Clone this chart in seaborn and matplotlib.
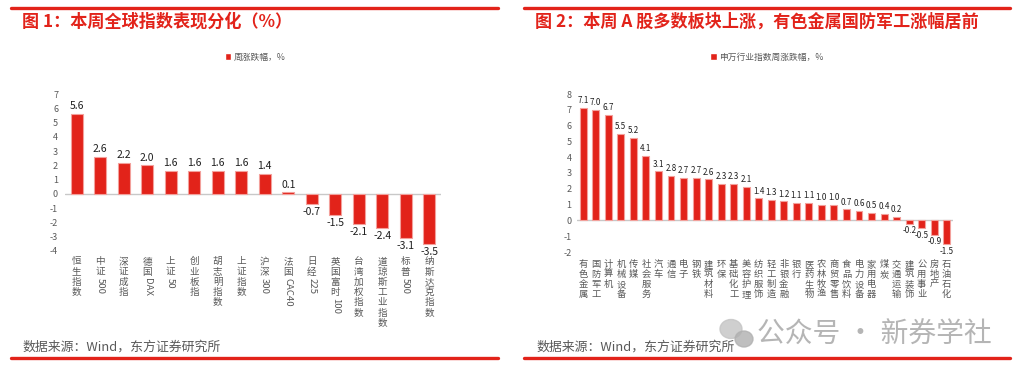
import matplotlib
matplotlib.use('Agg')
import matplotlib.pyplot as plt
import matplotlib.patches as mpatches
from matplotlib.lines import Line2D
import seaborn as sns
import pandas as pd

# ---------------- 数据 ----------------
global_names = ['恒生指数', '中证500', '深证成指', '德国DAX', '上证50', '创业板指',
                '胡志明指数', '上证指数', '沪深300', '法国CAC40', '日经225',
                '英国富时100', '台湾加权指数', '道琼斯工业指数', '标普500', '纳斯达克指数']
global_chg = [5.6, 2.6, 2.2, 2.0, 1.6, 1.6, 1.6, 1.6, 1.4, 0.1, -0.7, -1.5, -2.1, -2.4, -3.1, -3.5]

sw_names = ['有色金属', '国防军工', '计算机', '机械设备', '传媒', '社会服务', '汽车', '通信',
            '电子', '钢铁', '建筑材料', '环保', '基础化工', '美容护理', '纺织服饰', '轻工制造',
            '非银金融', '银行', '医药生物', '农林牧渔', '商贸零售', '食品饮料', '电力设备',
            '家用电器', '煤炭', '交通运输', '建筑装饰', '公用事业', '房地产', '石油石化']
sw_chg = [7.1, 7.0, 6.7, 5.5, 5.2, 4.1, 3.1, 2.8, 2.7, 2.7, 2.6, 2.3, 2.3, 2.1, 1.4, 1.3,
          1.2, 1.1, 1.1, 1.0, 1.0, 0.7, 0.6, 0.5, 0.4, 0.2, -0.2, -0.5, -0.9, -1.5]

titles = ['图 1：本周全球指数表现分化（%）',
          '图 2：本周 A 股多数板块上涨，有色金属国防军工涨幅居前']
legend_labels = ['周涨跌幅，%', '申万行业指数周涨跌幅，%']
source_text = '数据来源：Wind，东方证券研究所'
watermark = '公众号 · 新券学社'

RED = '#e2231a'
EDGE = '#f3a09b'
GRAY = '#595959'

sns.set_theme(style='white')
plt.rcParams['font.family'] = ['Noto Sans CJK SC', 'DejaVu Sans']
plt.rcParams['axes.unicode_minus'] = False

W, H = 1019, 379
fig = plt.figure(figsize=(W / 100, H / 100), dpi=100)


def px_box(x0, y0, x1, y1):
    return [x0 / W, 1 - y1 / H, (x1 - x0) / W, (y1 - y0) / H]


def stacked_label(ax, i, text, fs, start, step):
    # 中文逐字竖排, 英文数字整体旋转
    tokens, buf = [], ''
    for ch in text:
        if ord(ch) < 128:
            buf += ch
        else:
            if buf:
                tokens.append(buf)
                buf = ''
            tokens.append(ch)
    if buf:
        tokens.append(buf)
    off = start
    for tok in tokens:
        ascii_tok = ord(tok[0]) < 128
        ax.annotate(tok, xy=(i, 0), xycoords=('data', 'axes fraction'),
                    xytext=(0, -off), textcoords='offset points',
                    rotation=-90 if ascii_tok else 0, ha='center', va='top',
                    fontsize=fs, color=GRAY)
        off += len(tok) * fs * 0.6 if ascii_tok else step


def draw_panel(ax, names, vals, ylim, width, val_fs, lab_fs, lab_start, lab_step, ypad):
    df = pd.DataFrame({'name': names, 'chg': vals})
    sns.barplot(data=df, x='name', y='chg', color=RED, saturation=1, width=width,
                edgecolor=EDGE, linewidth=0.8, ax=ax)
    ax.set_ylim(*ylim)
    ax.set_xlim(-0.5, len(names) - 0.5)
    ax.axhline(0, color='#c8c8c8', lw=1, zorder=0)
    for s in ax.spines.values():
        s.set_visible(False)
    ax.set_yticks(range(ylim[0], ylim[1] + 1))
    ax.set_xticks(range(len(names)))
    ax.set_xticklabels([''] * len(names))
    ax.tick_params(axis='x', length=0)
    ax.tick_params(axis='y', length=0, labelsize=6.5, labelcolor=GRAY, pad=ypad)
    ax.set_xlabel('')
    ax.set_ylabel('')
    ax.bar_label(ax.containers[0], fmt='%.1f', padding=2, fontsize=val_fs, color='#1f1f1f')
    for i, n in enumerate(names):
        stacked_label(ax, i, n, lab_fs, lab_start, lab_step)


ax1 = fig.add_axes(px_box(65, 94, 441, 251))
draw_panel(ax1, global_names, global_chg, (-4, 7), 0.5, 7.5, 6.9, 4.5, 7.4, 5)

ax2 = fig.add_axes(px_box(577, 94, 953, 252))
draw_panel(ax2, sw_names, sw_chg, (-2, 8), 0.55, 5.8, 6.7, 6.0, 7.1, 4)

# 标题、图例、来源、分隔线
for x0, x1, tx, lx, ttl, lab, sx in [(11, 498, 22, 255, titles[0], legend_labels[0], 22),
                                       (524, 1010, 535, 767, titles[1], legend_labels[1], 536)]:
    fig.add_artist(Line2D([x0 / W, x1 / W], [1 - 8 / H] * 2, color=RED, lw=2.4))
    fig.add_artist(Line2D([x0 / W, x1 / W], [1 - 358 / H] * 2, color=RED, lw=2.4))
    fig.text(tx / W, 1 - 22 / H, ttl, color=RED, fontsize=12.3, fontweight='bold',
             ha='left', va='center')
    fig.legend(handles=[mpatches.Patch(facecolor=RED)], labels=[lab], loc='center',
               bbox_to_anchor=(lx / W, 1 - 57 / H), frameon=False, fontsize=6.3,
               labelcolor=GRAY, handlelength=0.7, handleheight=0.7, handletextpad=0.3)
    fig.text(sx / W, 1 - 347 / H, source_text, color=GRAY, fontsize=9.3,
             ha='left', va='center')

# 水印
fig.add_artist(mpatches.Ellipse((731 / W, 1 - 329 / H), 22 / W, 19 / H, color='#c4c4c4', alpha=0.8))
fig.add_artist(mpatches.Ellipse((744 / W, 1 - 339 / H), 18 / W, 16 / H, color='#b0b0b0', alpha=0.8))
fig.text(757 / W, 1 - 335 / H, watermark, color='#b5b5b5', fontsize=20, ha='left', va='center')

fig.savefig('out.png', dpi=100)
